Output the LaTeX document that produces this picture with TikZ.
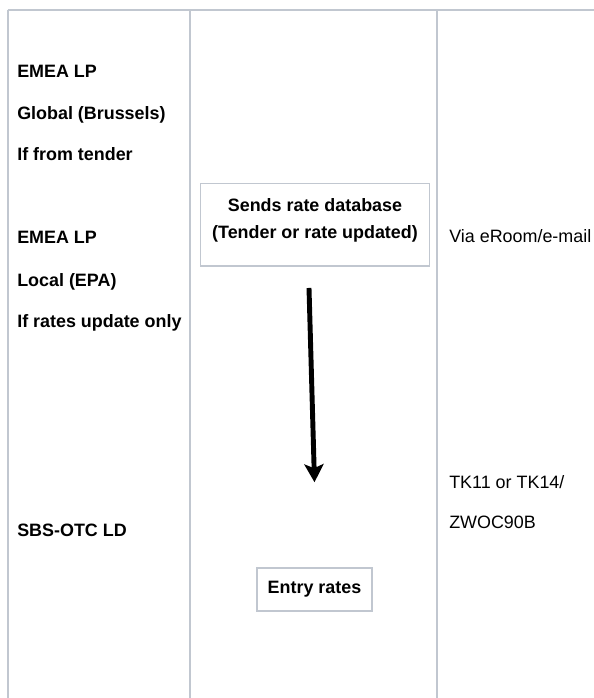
\documentclass[tikz,border=0pt]{standalone}
\usepackage{fontspec}
\setmainfont{Liberation Sans}
\usetikzlibrary{arrows.meta}
\definecolor{tableline}{RGB}{193,199,208}

\begin{document}
\begin{tikzpicture}[scale=1,
  cell/.style={anchor=base west,inner sep=0pt,font=\fontsize{12.74}{15}\selectfont\bfseries},
  note/.style={anchor=base west,inner sep=0pt,font=\fontsize{12.74}{15}\selectfont},
  ratebox/.style={draw=tableline,line width=1.1pt,align=center,inner sep=0pt,font=\fontsize{12.74}{19.84}\selectfont\bfseries},
  flow/.style={line width=3.5pt,-{Stealth[length=0.45cm,width=0.48cm,inset=0.1cm]}}]
\useasboundingbox (0,0) rectangle (14.85,-17.45);

\draw[tableline,line width=1.4pt] (0.19,-0.25) -- (14.85,-0.25);
\foreach \x in {0.19,4.76,10.925}
  \draw[tableline,line width=1.4pt] (\x,-0.25) -- (\x,-17.45);

\node[cell] (lp1) at (0.425,-1.93) {EMEA LP};
\node[cell] (glob) at (0.425,-2.985) {Global (Brussels)};
\node[cell] (tend) at (0.425,-4.01) {If from tender};
\node[cell] (lp2) at (0.425,-6.085) {EMEA LP};
\node[cell] (loc) at (0.425,-7.16) {Local (EPA)};
\node[cell] (upd) at (0.425,-8.185) {If rates update only};
\node[cell] (sbs) at (0.425,-13.41) {SBS-OTC LD};

\node[ratebox,minimum width=5.715cm,minimum height=2.07cm] (send) at (7.875,-5.62) {};
\node[ratebox,draw=none] (sendtext) at ([yshift=0.11cm]send.center) {Sends rate database\\(Tender or rate updated)};
\node[ratebox,minimum width=2.875cm,minimum height=1.075cm] (entry) at (7.8625,-14.7375) {Entry rates};

\node[note] (via) at (11.225,-6.06) {Via eRoom/e-mail};
\node[note] (tk) at (11.225,-12.21) {TK11 or TK14/};
\node[note] (zw) at (11.225,-13.21) {ZWOC90B};

\draw[flow] ([xshift=-0.15cm,yshift=-0.525cm]send.south) -- ([yshift=2.125cm]entry.north);

\end{tikzpicture}
\end{document}
